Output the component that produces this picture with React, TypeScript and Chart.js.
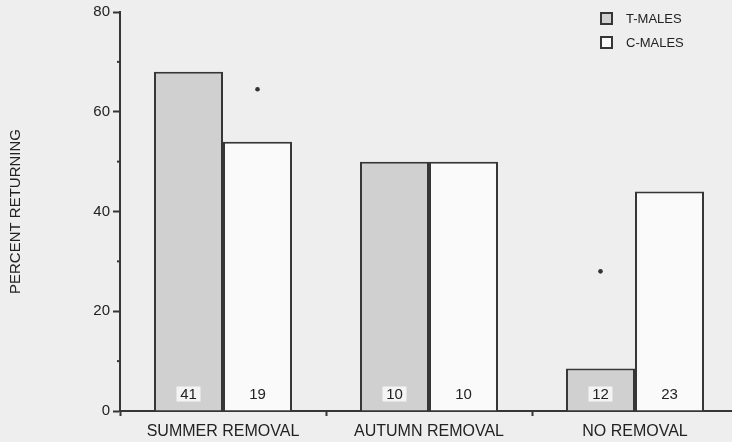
import React, { useEffect, useRef } from "react";
import { Chart, registerables } from "chart.js";

Chart.register(...registerables);

const CATEGORIES = ["SUMMER REMOVAL", "AUTUMN REMOVAL", "NO REMOVAL"];
const SERIES_LABELS = ["T-MALES", "C-MALES"];
const T_MALES = [68, 50, 8.5];
const C_MALES = [54, 50, 44];
const N_T = [41, 10, 12];
const N_C = [19, 10, 23];
const STAR_T: (number | null)[] = [null, null, 28];
const STAR_C: (number | null)[] = [64.5, null, null];
const Y_MINOR = [10, 30, 50, 70];

const FONT = "'Liberation Sans', Arial, Helvetica, sans-serif";
const INK = "#222222";
const LINE = "#363636";
const BG = "#eeeeee";
const GREY_FILL = "#d0d0d0";
const WHITE_FILL = "#fafafa";

const overlayPlugin = {
  id: "overlay",
  afterDatasetsDraw(chart: any) {
    const ctx = chart.ctx;
    const yScale = chart.scales.y;
    const counts = [N_T, N_C];
    const stars = [STAR_T, STAR_C];
    ctx.save();
    // minor y ticks
    ctx.strokeStyle = LINE;
    ctx.lineWidth = 2;
    Y_MINOR.forEach((v) => {
      const y = yScale.getPixelForValue(v);
      ctx.beginPath();
      ctx.moveTo(chart.chartArea.left - 3, y);
      ctx.lineTo(chart.chartArea.left, y);
      ctx.stroke();
    });
    ctx.font = `15px ${FONT}`;
    ctx.textAlign = "center";
    ctx.textBaseline = "middle";
    [0, 1].forEach((d) => {
      const meta = chart.getDatasetMeta(d);
      meta.data.forEach((bar: any, i: number) => {
        const x = bar.x;
        const y = bar.base - 16;
        if (d === 0) {
          ctx.fillStyle = "#f4f4f4";
          ctx.fillRect(x - 12, y - 8, 24, 15);
        }
        ctx.fillStyle = INK;
        ctx.fillText(String(counts[d][i]), x, y);
        const s = stars[d][i];
        if (s !== null && s !== undefined) {
          ctx.beginPath();
          ctx.arc(x, yScale.getPixelForValue(s), 2.3, 0, Math.PI * 2);
          ctx.fillStyle = "#333";
          ctx.fill();
        }
      });
    });
    // legend
    const lx = 601;
    const ly = 13;
    const fills = [GREY_FILL, WHITE_FILL];
    ctx.font = `13px ${FONT}`;
    ctx.textAlign = "left";
    SERIES_LABELS.forEach((lab, k) => {
      const yy = ly + k * 24;
      ctx.fillStyle = fills[k];
      ctx.fillRect(lx, yy, 11, 11);
      ctx.strokeStyle = LINE;
      ctx.lineWidth = 2;
      ctx.strokeRect(lx, yy, 11, 11);
      ctx.fillStyle = INK;
      ctx.fillText(lab, lx + 25, yy + 6);
    });
    ctx.restore();
  },
};

export default function App() {
  const ref = useRef<HTMLCanvasElement | null>(null);
  useEffect(() => {
    document.body.style.background = BG;
    const chart = new Chart(ref.current as HTMLCanvasElement, {
      type: "bar",
      data: {
        labels: CATEGORIES,
        datasets: [
          {
            label: SERIES_LABELS[0],
            data: T_MALES,
            backgroundColor: GREY_FILL,
            borderColor: LINE,
            borderWidth: 2,
            borderSkipped: "start",
            categoryPercentage: 0.67,
            barPercentage: 1,
          },
          {
            label: SERIES_LABELS[1],
            data: C_MALES,
            backgroundColor: WHITE_FILL,
            borderColor: LINE,
            borderWidth: 2,
            borderSkipped: "start",
            categoryPercentage: 0.67,
            barPercentage: 1,
          },
        ],
      },
      options: {
        responsive: false,
        animation: false,
        devicePixelRatio: 1,
        layout: { padding: { top: 12, right: 4, left: 0, bottom: 0 } },
        plugins: { legend: { display: false }, tooltip: { enabled: false } },
        scales: {
          x: {
            afterFit: (s: any) => {
              s.height = 31;
            },
            grid: {
              drawOnChartArea: false,
              offset: true,
              tickLength: 5,
              tickColor: LINE,
              tickWidth: 2,
            },
            border: { display: true, color: LINE, width: 2 },
            ticks: {
              color: INK,
              font: { family: FONT, size: 16 },
              padding: 6,
              maxRotation: 0,
            },
          },
          y: {
            min: 0,
            max: 80,
            afterFit: (s: any) => {
              s.width = 120;
            },
            grid: {
              drawOnChartArea: false,
              tickLength: 7,
              tickColor: LINE,
              tickWidth: 2,
            },
            border: { display: true, color: LINE, width: 2 },
            ticks: {
              stepSize: 20,
              color: INK,
              font: { family: FONT, size: 15 },
              padding: 3,
            },
            title: {
              display: true,
              text: "PERCENT RETURNING",
              color: INK,
              font: { family: FONT, size: 15 },
              padding: { top: 7, bottom: 0 },
            },
          },
        },
      },
      plugins: [overlayPlugin],
    } as any);
    return () => chart.destroy();
  }, []);
  return (
    <div
      style={{
        position: "fixed",
        left: 0,
        top: 0,
        width: 732,
        height: 442,
        overflow: "hidden",
        background: BG,
      }}
    >
      <canvas ref={ref} width={742} height={442} style={{ display: "block" }} />
    </div>
  );
}
